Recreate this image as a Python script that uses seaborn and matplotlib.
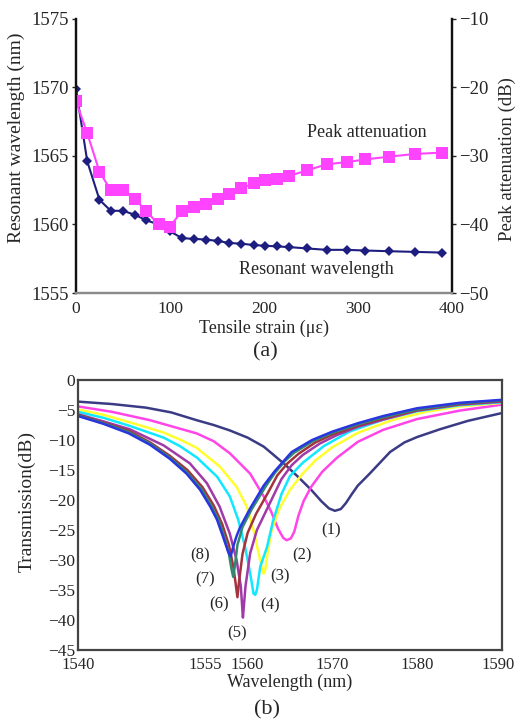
import numpy as np
import pandas as pd
import matplotlib
matplotlib.use("Agg")
import matplotlib.pyplot as plt
import matplotlib.transforms as mtransforms
import seaborn as sns

# ---------------- Panel (a) data ----------------
strain = [0, 12, 25, 37, 50, 63, 75, 88, 100, 113, 126, 138, 151, 163, 176,
          189, 201, 214, 227, 246, 267, 288, 308, 333, 361, 390]
res_wl = [1569.9, 1564.6, 1561.8, 1561.0, 1561.0, 1560.7, 1560.3, 1560.0, 1559.5,
          1559.0, 1558.95, 1558.9, 1558.8, 1558.65, 1558.6, 1558.5, 1558.45, 1558.4,
          1558.35, 1558.25, 1558.15, 1558.15, 1558.1, 1558.05, 1558.0, 1557.95]
peak_att = [-22.0, -26.7, -32.3, -35.0, -35.0, -36.3, -38.1, -40.0, -40.3, -38.0,
            -37.5, -37.0, -36.3, -35.5, -34.7, -34.0, -33.5, -33.3, -32.9, -32.1,
            -31.2, -30.9, -30.5, -30.1, -29.7, -29.5]

# ---------------- Panel (b) data ----------------
wl1 = [1540, 1544, 1548, 1551, 1554, 1556, 1557.9, 1560, 1561.9, 1563, 1564.5, 1566,
       1567.5, 1568.7, 1569.6, 1570.3, 1571, 1571.6, 1572.3, 1573, 1574.4, 1576.8,
       1578.5, 1580, 1582.7, 1586, 1590]
tr1 = [-3.6, -4.0, -4.6, -5.4, -6.7, -7.5, -8.4, -9.6, -11.1, -12.4, -14.2, -16.2,
       -18.3, -20.2, -21.4, -21.8, -21.5, -20.5, -19.0, -17.6, -15.6, -12.0,
       -10.4, -9.5, -8.2, -6.8, -5.5]
wl2 = [1540, 1544, 1548.5, 1551, 1554, 1556, 1557.9, 1560.3, 1561.9, 1562.8, 1563.6,
       1564.2, 1564.6, 1565.1, 1565.5, 1566.0, 1566.6, 1567.5, 1568.8, 1570.5, 1573,
       1576, 1580, 1585, 1590]
tr2 = [-4.4, -5.3, -6.7, -7.7, -8.9, -10.2, -12.2, -15.6, -19.4, -22.0, -24.8,
       -26.3, -26.7, -26.4, -25.3, -22.6, -20.2, -17.8, -15.3, -13.0, -10.3,
       -8.3, -6.5, -5.1, -4.1]
wl3 = [1540, 1543, 1546, 1550, 1552, 1554, 1556.7, 1558.7, 1559.9, 1560.7, 1561.3,
       1561.7, 1561.9, 1562.1, 1562.4, 1562.8, 1563.8, 1565, 1566.5, 1568, 1570,
       1573, 1577, 1581, 1585, 1590]
tr3 = [-4.9, -5.8, -7.0, -8.7, -9.9, -11.3, -14.4, -17.8, -21.1, -25.0, -28.9,
       -31.5, -32.3, -31.5, -28.5, -25.2, -21.3, -18.3, -15.6, -13.4, -11.2,
       -8.8, -6.7, -5.3, -4.4, -3.8]
wl4 = [1540, 1543, 1546, 1550.1, 1552, 1554, 1556.4, 1557.9, 1558.9, 1559.7, 1560.3,
       1560.7, 1560.9, 1561.1, 1561.3, 1561.5, 1562.3, 1563, 1564, 1565, 1566.5,
       1569, 1572, 1576, 1580, 1585, 1590]
tr4 = [-5.3, -6.3, -7.6, -9.6, -11.0, -12.9, -16.1, -19.4, -23.3, -27.8, -32.2,
       -35.6, -35.8, -35.0, -33.0, -31.1, -27.8, -23.5, -19.0, -16.0, -13.8,
       -11.0, -8.6, -6.6, -5.2, -4.2, -3.7]
wl5 = [1540, 1543, 1546.1, 1550.1, 1553.2, 1555.2, 1556.7, 1557.9, 1558.7, 1559.2,
       1559.45, 1559.6, 1559.75, 1560.3, 1561.1, 1562.6, 1564, 1565.2, 1566.5,
       1568.5, 1570.5, 1573, 1576, 1580, 1585, 1590]
tr5 = [-5.7, -6.9, -8.2, -10.9, -13.9, -17.2, -21.1, -25.6, -30.0, -34.4, -39.6,
       -37.0, -34.4, -28.9, -25.0, -20.6, -16.5, -14.2, -12.5, -10.6, -9.2,
       -7.8, -6.6, -5.1, -4.1, -3.6]
wl6 = [1540, 1543, 1546, 1548.5, 1550.8, 1552.9, 1554.7, 1556.0, 1557.0, 1557.8,
       1558.3, 1558.6, 1558.8, 1559.0, 1559.4, 1560.0, 1561.0, 1562.4, 1563.5, 1564.7,
       1566, 1568, 1570, 1573, 1576, 1580, 1585, 1590]
tr6 = [-5.8, -7.1, -8.5, -10.4, -12.6, -15.0, -17.9, -20.9, -24.0, -27.5, -31.0,
       -34.0, -36.2, -33.5, -29.0, -25.5, -22.3, -18.8, -15.9, -13.9, -12.3,
       -10.4, -9.1, -7.6, -6.4, -5.0, -4.0, -3.5]
wl7 = [1540, 1543, 1546, 1548.5, 1550.8, 1552.8, 1554.5, 1555.7, 1556.6, 1557.3,
       1557.8, 1558.1, 1558.3, 1558.5, 1558.8, 1559.4, 1560.5, 1562.1, 1563.2, 1564.4,
       1565.5, 1567.8, 1570, 1573, 1576, 1580, 1585, 1590]
tr7 = [-5.9, -7.2, -8.7, -10.6, -12.9, -15.3, -18.1, -20.9, -23.4, -26.3, -29.0,
       -31.5, -32.8, -31.0, -27.5, -24.5, -21.5, -17.8, -15.5, -13.5, -12.1,
       -10.1, -8.8, -7.4, -6.2, -4.9, -3.9, -3.4]
wl8 = [1540, 1543, 1546, 1548.5, 1550.8, 1552.8, 1554.4, 1555.6, 1556.4, 1557.1,
       1557.7, 1558.0, 1558.3, 1558.7, 1559.1, 1560.3, 1561.9, 1563.2, 1565.2, 1567.6,
       1570, 1573, 1576, 1580, 1585, 1590]
tr8 = [-6.0, -7.3, -8.9, -10.8, -13.1, -15.6, -18.3, -21.1, -23.3, -26.1, -28.6,
       -29.4, -27.8, -26.0, -24.6, -21.4, -17.6, -15.2, -12.0, -10.0, -8.6,
       -7.2, -6.0, -4.7, -3.8, -3.3]

curve_names = ["(1)", "(2)", "(3)", "(4)", "(5)", "(6)", "(7)", "(8)"]
curve_colors = ["#3b3b85", "#ff45e8", "#ffff30", "#10e8ff", "#a03aa8",
                "#a3333d", "#2f8a70", "#2a35e0"]
label_x = [1569.8, 1566.4, 1563.8, 1562.6, 1558.8, 1556.6, 1555.0, 1554.4]
label_y = [-25.1, -29.2, -32.8, -37.6, -42.3, -37.4, -33.3, -29.2]

xticks_a = [0, 100, 200, 300, 400]
yticks_a_left = [1555, 1560, 1565, 1570, 1575]
yticks_a_right = [-50, -40, -30, -20, -10]
xticks_b = [1540, 1555, 1560, 1570, 1580, 1590]
yticks_b = [0, -5, -10, -15, -20, -25, -30, -35, -40, -45]

# ---------------- Style ----------------
sns.set_theme(style="white")
plt.rcParams["font.family"] = ["Liberation Serif", "DejaVu Serif"]

fig = plt.figure(figsize=(5.17, 7.24), dpi=100)

# ======== Panel (a) ========
ax1 = fig.add_axes([0.147, 0.5953, 0.727, 0.3785])
ax2 = ax1.twinx()

df_a = pd.DataFrame({"strain": strain, "wl": res_wl, "att": peak_att})
sns.lineplot(data=df_a, x="strain", y="wl", ax=ax1, color="#1e1e80", lw=1.5,
             marker="D", markersize=5.5, markeredgewidth=0, sort=False)
sns.lineplot(data=df_a, x="strain", y="att", ax=ax2, color="#ff44ff", lw=1.5,
             marker="s", markersize=8, markeredgewidth=0, sort=False)

ax1.set_xlim(0, 400)
ax1.set_ylim(1555, 1575)
ax2.set_ylim(-50, -10)
ax1.set_xticks(xticks_a)
ax1.set_yticks(yticks_a_left)
ax2.set_yticks(yticks_a_right)
ax1.set_xlabel("Tensile strain (με)", fontsize=13)
ax1.set_ylabel("Resonant wavelength (nm)", fontsize=14)
ax2.set_ylabel("Peak attenuation (dB)", fontsize=13.5)
ax1.yaxis.set_label_coords(-0.135, 0.565)
ax2.yaxis.set_label_coords(1.124, 0.49)
ax1.xaxis.set_label_coords(0.5, -0.098)
for ax in (ax1, ax2):
    ax.tick_params(axis="y", labelsize=13.5, length=3, width=1, pad=2)
    ax.grid(False)
ax1.tick_params(axis="x", direction="inout", length=5, labelsize=12.5, pad=3)
for ax in (ax1, ax2):
    ax.spines["top"].set_visible(False)
    ax.spines["left"].set_color("#111111")
    ax.spines["right"].set_color("#111111")
    ax.spines["left"].set_linewidth(1.6)
    ax.spines["right"].set_linewidth(1.6)
    ax.spines["bottom"].set_color("#8a8a8a")
    ax.spines["bottom"].set_linewidth(1.6)

ax1.text(309, 1566.7, "Peak attenuation", fontsize=13, ha="center", va="center")
ax1.text(256, 1556.7, "Resonant wavelength", fontsize=13, ha="center", va="center")
fig.text(0.513, 1 - 352 / 724, "(a)", fontsize=16, ha="center", va="center")

# ======== Panel (b) ========
ax3 = fig.add_axes([0.1509, 0.1022, 0.820, 0.3729])
wls = [wl1, wl2, wl3, wl4, wl5, wl6, wl7, wl8]
trs = [tr1, tr2, tr3, tr4, tr5, tr6, tr7, tr8]
frames = []
for name, w, t in zip(curve_names, wls, trs):
    frames.append(pd.DataFrame({"wl": w, "tr": t, "curve": name}))
df_b = pd.concat(frames, ignore_index=True)
sns.lineplot(data=df_b, x="wl", y="tr", hue="curve", hue_order=curve_names,
             palette=dict(zip(curve_names, curve_colors)), ax=ax3, lw=1.8,
             sort=False, legend=False)
ax3.set_xlim(1540, 1590)
ax3.set_ylim(-45, 0)
ax3.set_xticks(xticks_b)
ax3.set_yticks(yticks_b)
ax3.set_xlabel("Wavelength (nm)", fontsize=13)
ax3.set_ylabel("Transmission(dB)", fontsize=14)
ax3.yaxis.set_label_coords(-0.101, 0.55)
ax3.xaxis.set_label_coords(0.5, -0.088)
ax3.tick_params(axis="y", labelsize=12.5, length=3, width=1, pad=2, direction="in")
ax3.tick_params(axis="x", labelsize=12, length=3, width=1, pad=5, direction="in")
ax3.grid(False)
for sp in ax3.spines.values():
    sp.set_color("#444444")
    sp.set_linewidth(1.6)
# keep the last tick label inside the figure edge
last_lbl = ax3.get_xticklabels()[-1]
last_lbl.set_transform(last_lbl.get_transform() +
                       mtransforms.ScaledTranslation(-4 / 100, 0, fig.dpi_scale_trans))
for name, lx, ly in zip(curve_names, label_x, label_y):
    ax3.text(lx, ly, name, fontsize=12, ha="center", va="center")
fig.text(0.517, 1 - 710 / 724, "(b)", fontsize=16, ha="center", va="center")

fig.savefig("out.png", dpi=100)
